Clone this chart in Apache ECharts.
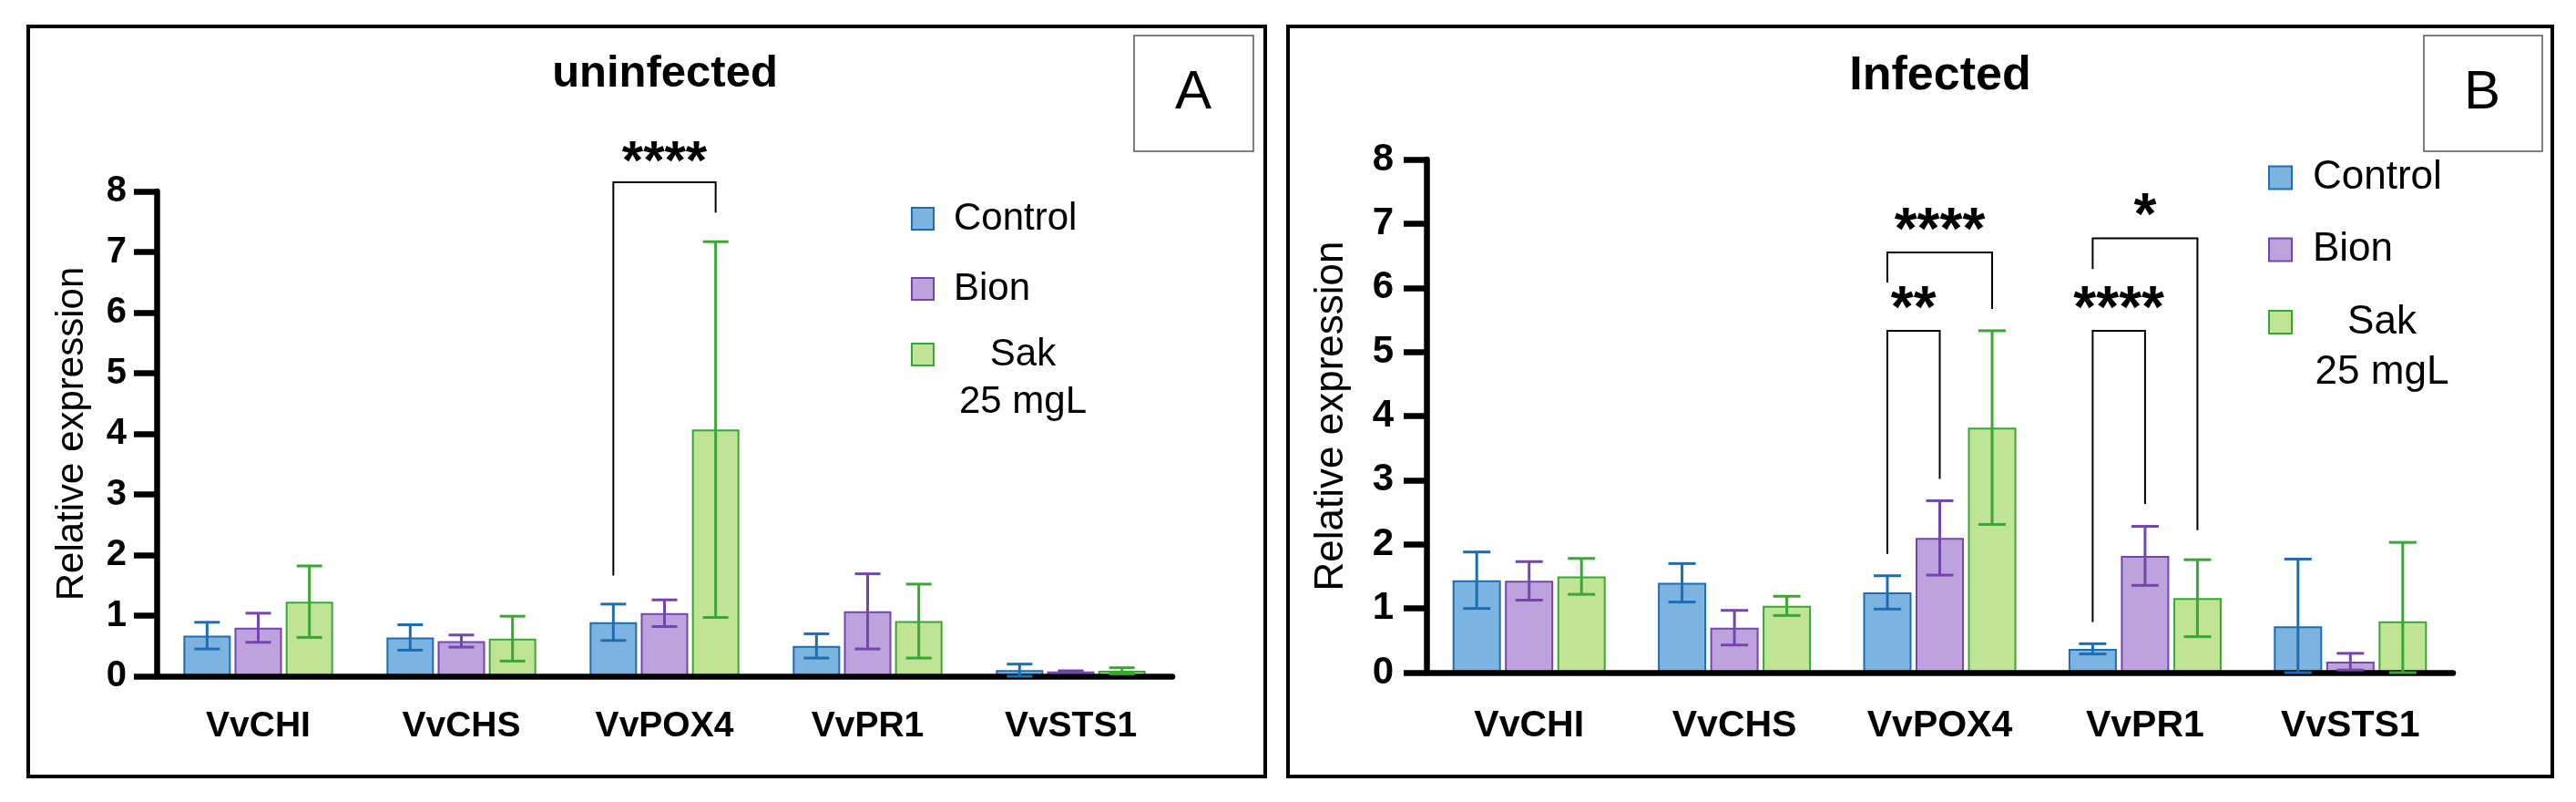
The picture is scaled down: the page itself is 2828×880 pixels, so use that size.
<!DOCTYPE html>
<html>
<head>
<meta charset="utf-8">
<title>Relative expression - uninfected / Infected</title>
<script src="https://cdn.jsdelivr.net/npm/echarts@6/dist/echarts.min.js"></script>
<style>
  html, body { margin: 0; padding: 0; background: #fff; }
  #cht { width: 2828px; height: 880px; }
</style>
</head>
<body>
<div id="cht"></div>
<script>
// categories and groups
var genes = ['VvCHI', 'VvCHS', 'VvPOX4', 'VvPR1', 'VvSTS1'];
var groups = ['Control', 'Bion', 'Sak 25 mgL'];
var legendLabels = ['Control', 'Bion', 'Sak\n25 mgL'];
var yMax = 8, yStep = 1;

// A - uninfected (mean, error)
var ctrlA = [0.67, 0.64, 0.89, 0.50, 0.10];
var ctrlErrA = [0.22, 0.21, 0.30, 0.20, 0.10];
var bionA = [0.80, 0.58, 1.04, 1.07, 0.08];
var bionErrA = [0.24, 0.10, 0.22, 0.62, 0.01];
var sakA = [1.23, 0.62, 4.07, 0.91, 0.09];
var sakErrA = [0.59, 0.37, 3.10, 0.61, 0.05];

// B - infected (mean, error)
var ctrlB = [1.44, 1.40, 1.25, 0.37, 0.72];
var ctrlErrB = [0.44, 0.30, 0.26, 0.08, 1.05];
var bionB = [1.43, 0.70, 2.10, 1.82, 0.17];
var bionErrB = [0.30, 0.27, 0.58, 0.46, 0.13];
var sakB = [1.50, 1.04, 3.82, 1.16, 0.80];
var sakErrB = [0.28, 0.15, 1.51, 0.60, 1.23];

// significance brackets: [gene, group] from/to, top, leg ends, mark
var bracketsA = [
  {from: [2, 0], to: [2, 2], top: 8.15, left: 1.66, right: 7.65, mark: '****'}
];
var bracketsB = [
  {from: [2, 0], to: [2, 2], top: 6.55, left: 6.08, right: 5.67, mark: '****'},
  {from: [2, 0], to: [2, 1], top: 5.33, left: 1.85, right: 3.02, mark: '**'},
  {from: [3, 0], to: [3, 2], top: 6.77, left: 6.29, right: 2.22, mark: '*'},
  {from: [3, 0], to: [3, 1], top: 5.33, left: 0.79, right: 2.63, mark: '****'}
];

var font = '"Liberation Sans", Arial, Helvetica, sans-serif';
var fills = ['#7db3e1', '#bea2de', '#bfe496'];
var edges = ['#1d6eb1', '#7346ad', '#3aa635'];

var panels = [
  {
    title: 'uninfected', letter: 'A',
    means: [ctrlA, bionA, sakA], errs: [ctrlErrA, bionErrA, sakErrA], brackets: bracketsA,
    box: [31, 29, 1358, 823], grid: {left: 172, top: 210, width: 1115, height: 532},
    titleX: 730, titleY: 81, titleSize: 49,
    letterBox: [1245, 39, 131, 127], letterX: 1310, letterY: 102,
    legX: 1001, legY: [240, 317, 389], icon: 24, legTextX: 1047, sakX: 1123, lineGap: 52, legSize: 42,
    tickSize: 40, labelSize: 39, nameSize: 42, nameGap: 72, yMargin: 33, xMargin: 36,
    barWidth: 52, gap: 0.08, cap: 14, starSize: 60, starLift: 21
  },
  {
    title: 'Infected', letter: 'B',
    means: [ctrlB, bionB, sakB], errs: [ctrlErrB, bionErrB, sakErrB], brackets: bracketsB,
    box: [1414, 29, 1388, 823], grid: {left: 1566, top: 175, width: 1127, height: 563},
    titleX: 2130, titleY: 84, titleSize: 52,
    letterBox: [2661, 39, 130, 127], letterX: 2725, letterY: 102,
    legX: 2491, legY: [195, 274, 353.5], icon: 25, legTextX: 2539, sakX: 2615, lineGap: 55, legSize: 44,
    tickSize: 42, labelSize: 41, nameSize: 44, nameGap: 82, yMargin: 36, xMargin: 38,
    barWidth: 53, gap: 0.085, cap: 15, starSize: 64, starLift: 22
  }
];

var grids = [], xAxes = [], yAxes = [], series = [], graphics = [];

panels.forEach(function (p, pi) {
  var step = p.barWidth * (1 + p.gap);
  grids.push(p.grid);
  xAxes.push({
    type: 'category', gridIndex: pi, data: genes, z: 5,
    axisLine: {lineStyle: {color: '#000', width: 6.5}},
    axisTick: {alignWithLabel: true, length: 25, lineStyle: {color: '#000', width: 6.5}},
    axisLabel: {color: '#000', fontFamily: font, fontWeight: 'bold', fontSize: p.labelSize, margin: p.xMargin}
  });
  yAxes.push({
    type: 'value', gridIndex: pi, min: 0, max: yMax, interval: yStep, z: 5,
    name: 'Relative expression', nameLocation: 'middle', nameGap: p.nameGap,
    nameTextStyle: {color: '#000', fontFamily: font, fontSize: p.nameSize},
    axisLine: {show: true, lineStyle: {color: '#000', width: 6.5}},
    axisTick: {show: true, length: 25, lineStyle: {color: '#000', width: 6.5}},
    axisLabel: {color: '#000', fontFamily: font, fontWeight: 'bold', fontSize: p.tickSize, margin: p.yMargin},
    splitLine: {show: false}
  });

  groups.forEach(function (g, gi) {
    series.push({
      name: g, type: 'bar', xAxisIndex: pi, yAxisIndex: pi,
      data: p.means[gi], barWidth: p.barWidth, barGap: (p.gap * 100) + '%', z: 2,
      itemStyle: {color: fills[gi], borderColor: edges[gi], borderWidth: 2}
    });
    // error bars
    series.push({
      name: g + ' error', type: 'custom', xAxisIndex: pi, yAxisIndex: pi, z: 10,
      data: p.means[gi].map(function (m, i) { return [i, m, p.errs[gi][i]]; }),
      encode: {x: 0, y: 1},
      renderItem: function (params, api) {
        var c = api.value(0), m = api.value(1), e = api.value(2);
        var x = api.coord([c, m])[0] + (gi - 1) * step;
        var yt = api.coord([c, m + e])[1];
        var yb = api.coord([c, Math.max(0, m - e)])[1];
        var st = {stroke: edges[gi], lineWidth: 3, fill: null};
        return {type: 'group', children: [
          {type: 'line', shape: {x1: x, y1: yt, x2: x, y2: yb}, style: st},
          {type: 'line', shape: {x1: x - p.cap, y1: yt, x2: x + p.cap, y2: yt}, style: st},
          {type: 'line', shape: {x1: x - p.cap, y1: yb, x2: x + p.cap, y2: yb}, style: st}
        ]};
      }
    });
  });

  // significance brackets
  series.push({
    name: 'significance', type: 'custom', xAxisIndex: pi, yAxisIndex: pi, z: 10, clip: false,
    data: p.brackets.map(function (b) { return [b.from[0], b.top]; }),
    encode: {x: 0, y: 1},
    renderItem: function (params, api) {
      var b = p.brackets[params.dataIndex];
      var x1 = api.coord([b.from[0], 0])[0] + (b.from[1] - 1) * step;
      var x2 = api.coord([b.to[0], 0])[0] + (b.to[1] - 1) * step;
      var yt = api.coord([0, b.top])[1];
      var yl = api.coord([0, b.left])[1];
      var yr = api.coord([0, b.right])[1];
      return {type: 'group', children: [
        {type: 'polyline', shape: {points: [[x1, yl], [x1, yt], [x2, yt], [x2, yr]]},
         style: {stroke: '#000', lineWidth: 2, fill: null}},
        {type: 'text', x: (x1 + x2) / 2, y: yt - p.starLift,
         style: {text: b.mark, fill: '#000', font: 'bold ' + p.starSize + 'px ' + font,
                 align: 'center', verticalAlign: 'middle'}}
      ]};
    }
  });

  // panel frame, title, letter box
  graphics.push({type: 'rect', shape: {x: p.box[0], y: p.box[1], width: p.box[2], height: p.box[3]},
    style: {fill: null, stroke: '#000', lineWidth: 4}});
  graphics.push({type: 'text', x: p.titleX, y: p.titleY,
    style: {text: p.title, fill: '#000', font: 'bold ' + p.titleSize + 'px ' + font,
            align: 'center', verticalAlign: 'middle', textAlign: 'center', textVerticalAlign: 'middle'}});
  graphics.push({type: 'rect', shape: {x: p.letterBox[0], y: p.letterBox[1], width: p.letterBox[2], height: p.letterBox[3]},
    style: {fill: null, stroke: '#555', lineWidth: 1.5}});
  graphics.push({type: 'text', x: p.letterX, y: p.letterY,
    style: {text: p.letter, fill: '#000', font: '60px ' + font,
            align: 'center', verticalAlign: 'middle', textAlign: 'center', textVerticalAlign: 'middle'}});

  // legend
  legendLabels.forEach(function (lab, gi) {
    var cy = p.legY[gi];
    graphics.push({type: 'rect', shape: {x: p.legX, y: cy - p.icon / 2, width: p.icon, height: p.icon},
      style: {fill: fills[gi], stroke: edges[gi], lineWidth: 2}});
    var multi = lab.indexOf('\n') >= 0;
    graphics.push({type: 'text', x: multi ? p.sakX : p.legTextX, y: multi ? cy - p.lineGap / 2 : cy,
      style: {text: lab, fill: '#000', font: p.legSize + 'px ' + font, lineHeight: p.lineGap,
              align: multi ? 'center' : 'left', verticalAlign: multi ? 'top' : 'middle',
              textAlign: multi ? 'center' : 'left', textVerticalAlign: multi ? 'top' : 'middle'}});
  });
});

var option = {
  backgroundColor: '#fff',
  animation: false,
  grid: grids,
  xAxis: xAxes,
  yAxis: yAxes,
  series: series,
  graphic: {elements: graphics}
};

window.onload = function () {
  var myChart = echarts.init(document.getElementById('cht'));
  myChart.setOption(option);
};
</script>
</body>
</html>
